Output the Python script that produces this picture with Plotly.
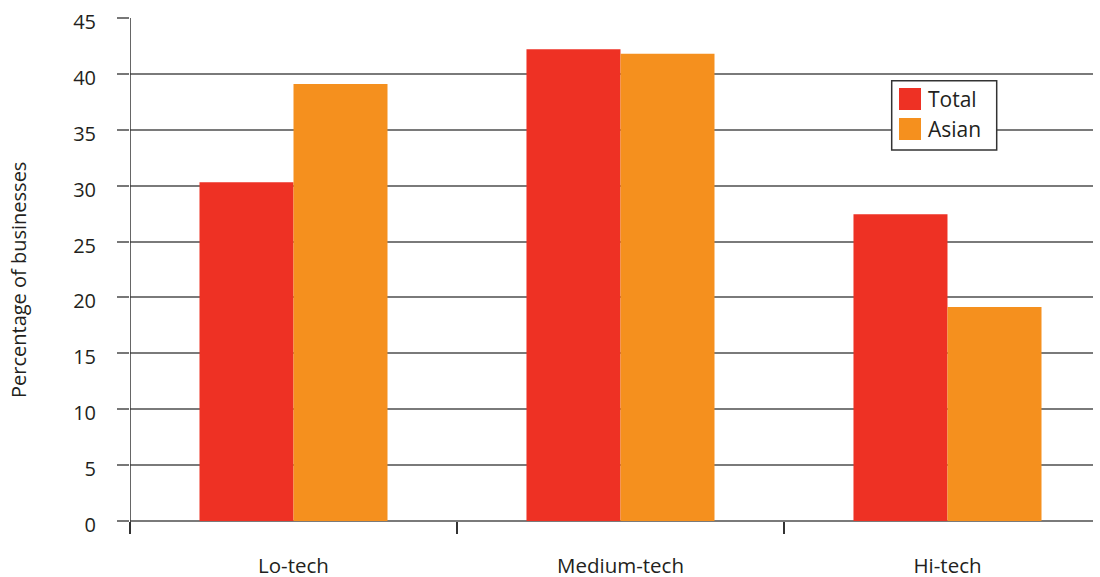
import plotly.graph_objects as go

categories = ["Lo-tech", "Medium-tech", "Hi-tech"]
total_values = [30.3, 42.2, 27.45]
asian_values = [39.1, 41.8, 19.15]
series_names = ["Total", "Asian"]
series_colors = ["#EE3124", "#F5901E"]
y_ticks = [0, 5, 10, 15, 20, 25, 30, 35, 40, 45]
y_title = "Percentage of businesses"

FONT = "Open Sans, Noto Sans, sans-serif"
TEXT = "#231f20"
PLOT_W, PLOT_H = 963, 503

fig = go.Figure()
for name, vals, col in zip(series_names, [total_values, asian_values], series_colors):
    fig.add_trace(go.Bar(x=categories, y=vals, name=name, marker_color=col,
                         marker_line_width=0, showlegend=False))

fig.update_layout(
    width=1100, height=577,
    margin=dict(l=130, r=7, t=18, b=56),
    paper_bgcolor="white", plot_bgcolor="white",
    barmode="group", bargap=0.425, bargroupgap=0,
    font=dict(family=FONT, color=TEXT, size=19),
)
fig.update_xaxes(
    range=[-0.5, 2.445], tickson="boundaries", ticks="outside", ticklen=12,
    tickwidth=1.5, tickcolor="#333", showline=False, showgrid=False,
    tickfont=dict(size=20.5), ticklabelstandoff=30, automargin=False,
)
fig.update_yaxes(
    range=[0, 45], tickvals=y_ticks, ticks="outside", ticklen=12, tickwidth=1.5,
    tickcolor="#777", showgrid=True, gridcolor="#7a7a7a", gridwidth=1.5,
    zeroline=True, zerolinecolor="#7a7a7a", zerolinewidth=1.5,
    showline=False, tickfont=dict(size=20), ticklabelstandoff=17,
    ticklabelshift=4, automargin=False,
)

# rotated axis title
fig.add_annotation(xref="paper", yref="paper", x=(18 - 130) / PLOT_W,
                   y=(521 - 280) / PLOT_H, text=y_title, textangle=-90,
                   showarrow=False, xanchor="center", yanchor="middle",
                   font=dict(size=20, color=TEXT))

# vertical axis line, extending down to the first category boundary tick
fig.add_shape(type="line", xref="x", yref="paper", x0=-0.5, x1=-0.5,
              y0=-12 / PLOT_H, y1=1, line=dict(color="#333", width=1.5))

# legend box with swatches
lx0, lx1 = (891.7 - 130) / PLOT_W, (996.7 - 130) / PLOT_W
ly1, ly0 = (521 - 80.7) / PLOT_H, (521 - 150) / PLOT_H
fig.add_shape(type="rect", xref="paper", yref="paper", x0=lx0, x1=lx1, y0=ly0, y1=ly1,
              line=dict(color="#333", width=1.5), fillcolor="white", layer="above")
for i, (name, col) in enumerate(zip(series_names, series_colors)):
    top = 88 + i * 30
    fig.add_shape(type="rect", xref="paper", yref="paper",
                  x0=(899 - 130) / PLOT_W, x1=(921 - 130) / PLOT_W,
                  y0=(521 - top - 22) / PLOT_H, y1=(521 - top) / PLOT_H,
                  line=dict(width=0), fillcolor=col, layer="above")
    fig.add_annotation(xref="paper", yref="paper", x=(926 - 130) / PLOT_W,
                       y=(521 - top - 11) / PLOT_H, text=name, showarrow=False,
                       xanchor="left", yanchor="middle", font=dict(size=21, color=TEXT))

fig.write_html("out.html")
